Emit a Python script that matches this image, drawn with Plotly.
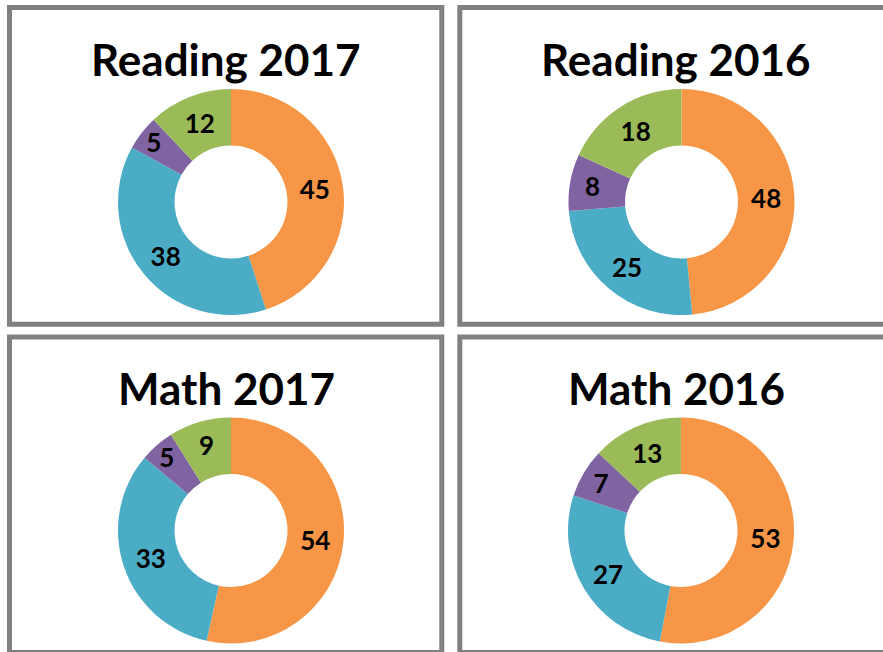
import plotly.graph_objects as go

W, H = 883, 652

categories = ["Level 4", "Level 3", "Level 2", "Level 1"]
colors = ["#F79646", "#4BACC6", "#8064A2", "#9BBB59"]

titles = ["Reading 2017", "Reading 2016", "Math 2017", "Math 2016"]
reading_2017 = [45, 38, 5, 12]
reading_2016 = [48, 25, 8, 18]
math_2017 = [54, 33, 5, 9]
math_2016 = [53, 27, 7, 13]
series = [reading_2017, reading_2016, math_2017, math_2016]

centers = [(231, 202), (681.5, 202), (231, 530.5), (681, 530.5)]
radius = 113
title_y = [59, 59, 388, 388]
title_x = [226, 676, 226, 676]
boxes = [(9.5, 7.5, 441.8, 324.3), (459.8, 7.5, 900, 324.3),
         (9.5, 337, 441.8, 652.5), (459.8, 337, 900, 652.5)]

fig = go.Figure()
for vals, (cx, cy) in zip(series, centers):
    fig.add_trace(go.Pie(
        labels=categories, values=vals, sort=False, direction="clockwise",
        rotation=0, hole=0.5,
        marker=dict(colors=colors, line=dict(color="white", width=0)),
        textinfo="value", textposition="inside",
        insidetextorientation="horizontal",
        textfont=dict(family="Lato", size=26, color="black", weight="bold"),
        domain=dict(x=[(cx - radius) / W, (cx + radius) / W],
                    y=[1 - (cy + radius) / H, 1 - (cy - radius) / H]),
        showlegend=False, hoverinfo="label+value",
    ))

shapes = []
for (x0, y0, x1, y1) in boxes:
    shapes.append(dict(type="rect", xref="paper", yref="paper",
                       x0=x0 / W, x1=x1 / W, y0=1 - y0 / H, y1=1 - y1 / H,
                       line=dict(color="#808080", width=5), fillcolor="rgba(0,0,0,0)",
                       layer="below"))

annotations = []
for t, tx, ty in zip(titles, title_x, title_y):
    annotations.append(dict(text=t, x=tx / W, y=1 - ty / H, xref="paper", yref="paper",
                            showarrow=False, xanchor="center", yanchor="middle",
                            font=dict(family="Lato", size=44, color="black", weight="bold")))

fig.update_layout(width=W, height=H, margin=dict(l=0, r=0, t=0, b=0),
                  paper_bgcolor="white", plot_bgcolor="white",
                  shapes=shapes, annotations=annotations,
                  uniformtext=dict(minsize=26, mode="show"))

fig.write_html("out.html", config={"displayModeBar": False},
               post_script="document.body.style.margin='0';document.body.style.padding='0';")
